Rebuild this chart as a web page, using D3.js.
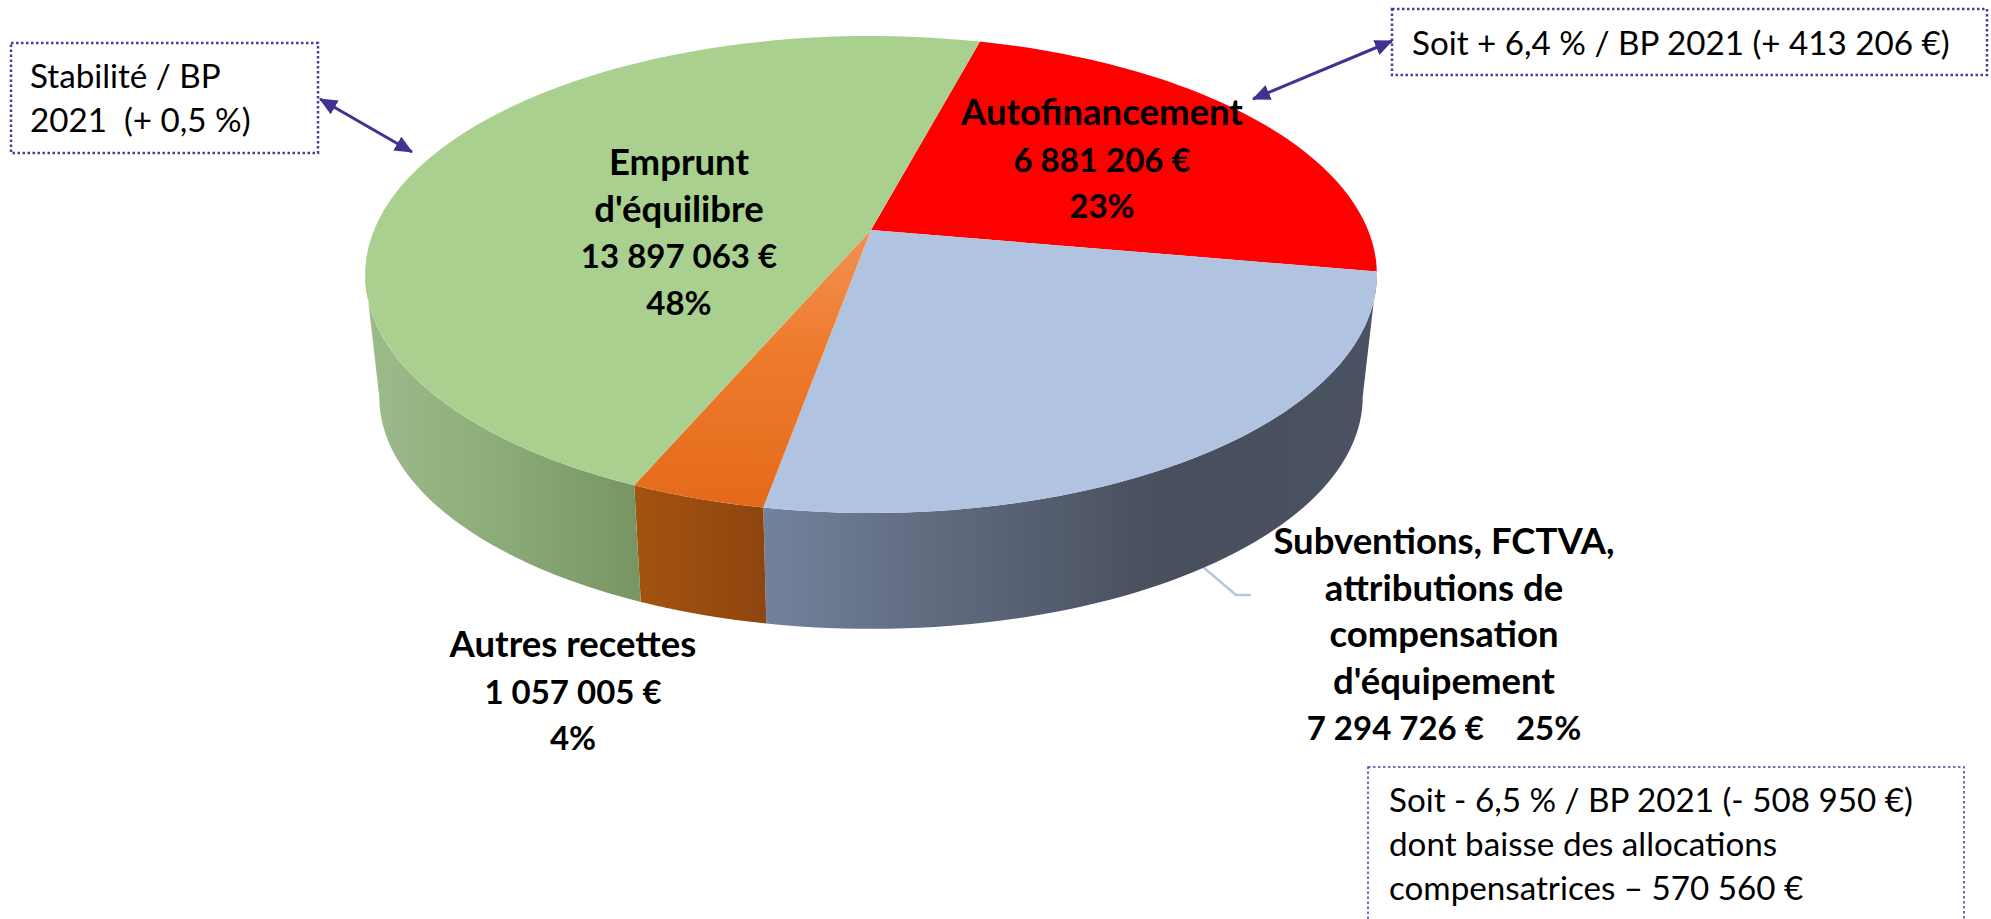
<!DOCTYPE html>
<html>
<head>
<meta charset="utf-8">
<style>
html, body { margin: 0; background: #fff; overflow: hidden; }
text { font-family: Lato, "Open Sans", sans-serif; fill: #000; }
.label { font-weight: 700; font-size: 36.5px; text-anchor: middle; }
.label .num { font-size: 33px; }
.note { font-size: 33.2px; }
.box { fill: none; stroke: #4b3c9c; stroke-dasharray: 2.5 2.5; }
.arrow { stroke: #3f3291; stroke-width: 3; fill: none; }
</style>
</head>
<body>
<div id="chart"></div>
<script src="https://d3js.org/d3.v7.min.js"></script>
<script>
// values from the chart, in pie order going clockwise from the top
var categories = ["Autofinancement", "Subventions", "Autres recettes", "Emprunt d'équilibre"];
var values = [6881206, 7294726, 1057005, 13897063];
var topColors = ["#ff0000", "#b0c4e2", "url(#topOrange)", "#a9d08e"];
var sideColors = [
  ["#c00000", "#a00000"],
  ["#73819b", "#5d677b", "#474e5c", "#4b5263"],
  ["#a45410", "#8e450f"],
  ["#9dbc8c", "#8bab78", "#779664"]
];

var labelLines = [
  ["Autofinancement", "6 881 206 €", "23%"],
  ["Subventions, FCTVA,", "attributions de", "compensation", "d'équipement", "7 294 726 €    25%"],
  ["Autres recettes", "1 057 005 €", "4%"],
  ["Emprunt", "d'équilibre", "13 897 063 €", "48%"]
];
var labelPos = [
  {x: 1102, y: 125},
  {x: 1444, y: 554},
  {x: 573, y: 657},
  {x: 679, y: 175}
];

var notes = [
  {x: 11, y: 43, w: 307, h: 110, sw: 2.5, tx: 30, ty: 88, lines: ["Stabilité / BP", "2021  (+ 0,5 %)"]},
  {x: 1392, y: 9, w: 595, h: 66, sw: 2.5, tx: 1412, ty: 55, lines: ["Soit + 6,4 % / BP 2021 (+ 413 206 €)"]},
  {x: 1368, y: 767, w: 596, h: 170, sw: 1.5, tx: 1389, ty: 812, lines: ["Soit - 6,5 % / BP 2021 (- 508 950 €)", "dont baisse des allocations", "compensatrices – 570 560 €"]}
];
var arrows = [
  [[320, 99], [412, 152]],
  [[1392, 41], [1253, 99]]
];

var width = 1991, height = 919;

// perspective of the disc: a unit circle mapped on the screen
var cx = 871, A = 497, B = 187.3, apexY = 230, k = -0.1866;
// walls lean towards a far vanishing point
var vanishY = 4650, lean = 0.028;
// only this part of the rim faces the viewer
var wallFrom = 100.7 * Math.PI / 180, wallTo = 259.3 * Math.PI / 180;

function project(a) {
  var X = Math.sin(a), Y = -Math.cos(a), w = 1 + k * Y;
  return [cx + A * X / w, (B * Y + apexY) / w];
}
function lower(p) {
  return [p[0] + lean * (cx - p[0]), p[1] + lean * (vanishY - p[1])];
}
function arcPoints(a0, a1) {
  return d3.range(0, 61).map(function(i) {
    return project(a0 + (a1 - a0) * i / 60);
  });
}

var svg = d3.select("#chart").append("svg")
    .attr("width", width)
    .attr("height", height)
    .style("display", "block");

var defs = svg.append("defs");
defs.append("marker")
    .attr("id", "head")
    .attr("markerUnits", "userSpaceOnUse")
    .attr("viewBox", "0 0 18 16")
    .attr("refX", 17).attr("refY", 8)
    .attr("markerWidth", 18).attr("markerHeight", 16)
    .attr("orient", "auto-start-reverse")
  .append("path")
    .attr("d", "M0,0L18,8L0,16Z")
    .attr("fill", "#3f3291");

var pie = d3.pie().sort(null)
    .startAngle(15 * Math.PI / 180)
    .endAngle((360 + 15) * Math.PI / 180);
var slices = pie(values);
var line = d3.line();

// orange top face is lighter near the centre
var og = defs.append("linearGradient")
    .attr("id", "topOrange")
    .attr("gradientUnits", "userSpaceOnUse")
    .attr("x1", 0).attr("x2", 0).attr("y1", apexY).attr("y2", 507);
og.append("stop").attr("offset", "0%").attr("stop-color", "#f19153");
og.append("stop").attr("offset", "45%").attr("stop-color", "#ef7a2c");
og.append("stop").attr("offset", "100%").attr("stop-color", "#e46a1b");

// wall part of each slice, clamped to the visible rim
var walls = slices.map(function(s, i) {
  return {i: i, a0: Math.max(s.startAngle, wallFrom), a1: Math.min(s.endAngle, wallTo)};
}).filter(function(w) { return w.a1 > w.a0; });

// wall gradients run left to right across each slice
walls.forEach(function(w) {
  var ext = d3.extent(arcPoints(w.a0, w.a1), function(p) { return p[0]; });
  var g = defs.append("linearGradient")
      .attr("id", "side" + w.i)
      .attr("gradientUnits", "userSpaceOnUse")
      .attr("x1", ext[0]).attr("x2", ext[1])
      .attr("y1", 0).attr("y2", 0);
  sideColors[w.i].forEach(function(c, j) {
    g.append("stop")
      .attr("offset", j / (sideColors[w.i].length - 1))
      .attr("stop-color", c);
  });
});

// leader line for the subventions label, it starts behind the wall
svg.append("path")
    .attr("d", line([[1190, 556], [1236, 595], [1251, 595]]))
    .attr("fill", "none")
    .attr("stroke", "#b9c5d8")
    .attr("stroke-width", 2.5);

// walls first, then the top face
svg.append("g").selectAll("path")
    .data(walls)
    .join("path")
    .attr("fill", function(d) { return "url(#side" + d.i + ")"; })
    .attr("d", function(d) {
      var pts = arcPoints(d.a0, d.a1);
      return line(pts.concat(pts.map(lower).reverse())) + "Z";
    });

svg.append("g").selectAll("path")
    .data(slices)
    .join("path")
    .attr("fill", function(d, i) { return topColors[i]; })
    .attr("d", function(d) {
      return line([[cx, apexY]].concat(arcPoints(d.startAngle, d.endAngle))) + "Z";
    });

// data labels, lines with figures are set a little smaller
labelLines.forEach(function(lines, i) {
  var t = svg.append("text")
      .attr("class", "label")
      .style("white-space", "pre");
  lines.forEach(function(l, j) {
    t.append("tspan")
      .attr("class", /\d/.test(l) ? "num" : null)
      .attr("x", labelPos[i].x)
      .attr("y", labelPos[i].y + j * 46.5)
      .text(l);
  });
});

// dotted comment boxes
notes.forEach(function(n) {
  svg.append("rect")
      .attr("class", "box")
      .attr("x", n.x).attr("y", n.y)
      .attr("width", n.w).attr("height", n.h)
      .attr("stroke-width", n.sw);
  var t = svg.append("text")
      .attr("class", "note")
      .style("white-space", "pre");
  n.lines.forEach(function(l, j) {
    t.append("tspan")
      .attr("x", n.tx)
      .attr("y", n.ty + j * 44)
      .text(l);
  });
});

arrows.forEach(function(a) {
  svg.append("path")
      .attr("class", "arrow")
      .attr("d", line(a))
      .attr("marker-start", "url(#head)")
      .attr("marker-end", "url(#head)");
});
</script>
</body>
</html>
